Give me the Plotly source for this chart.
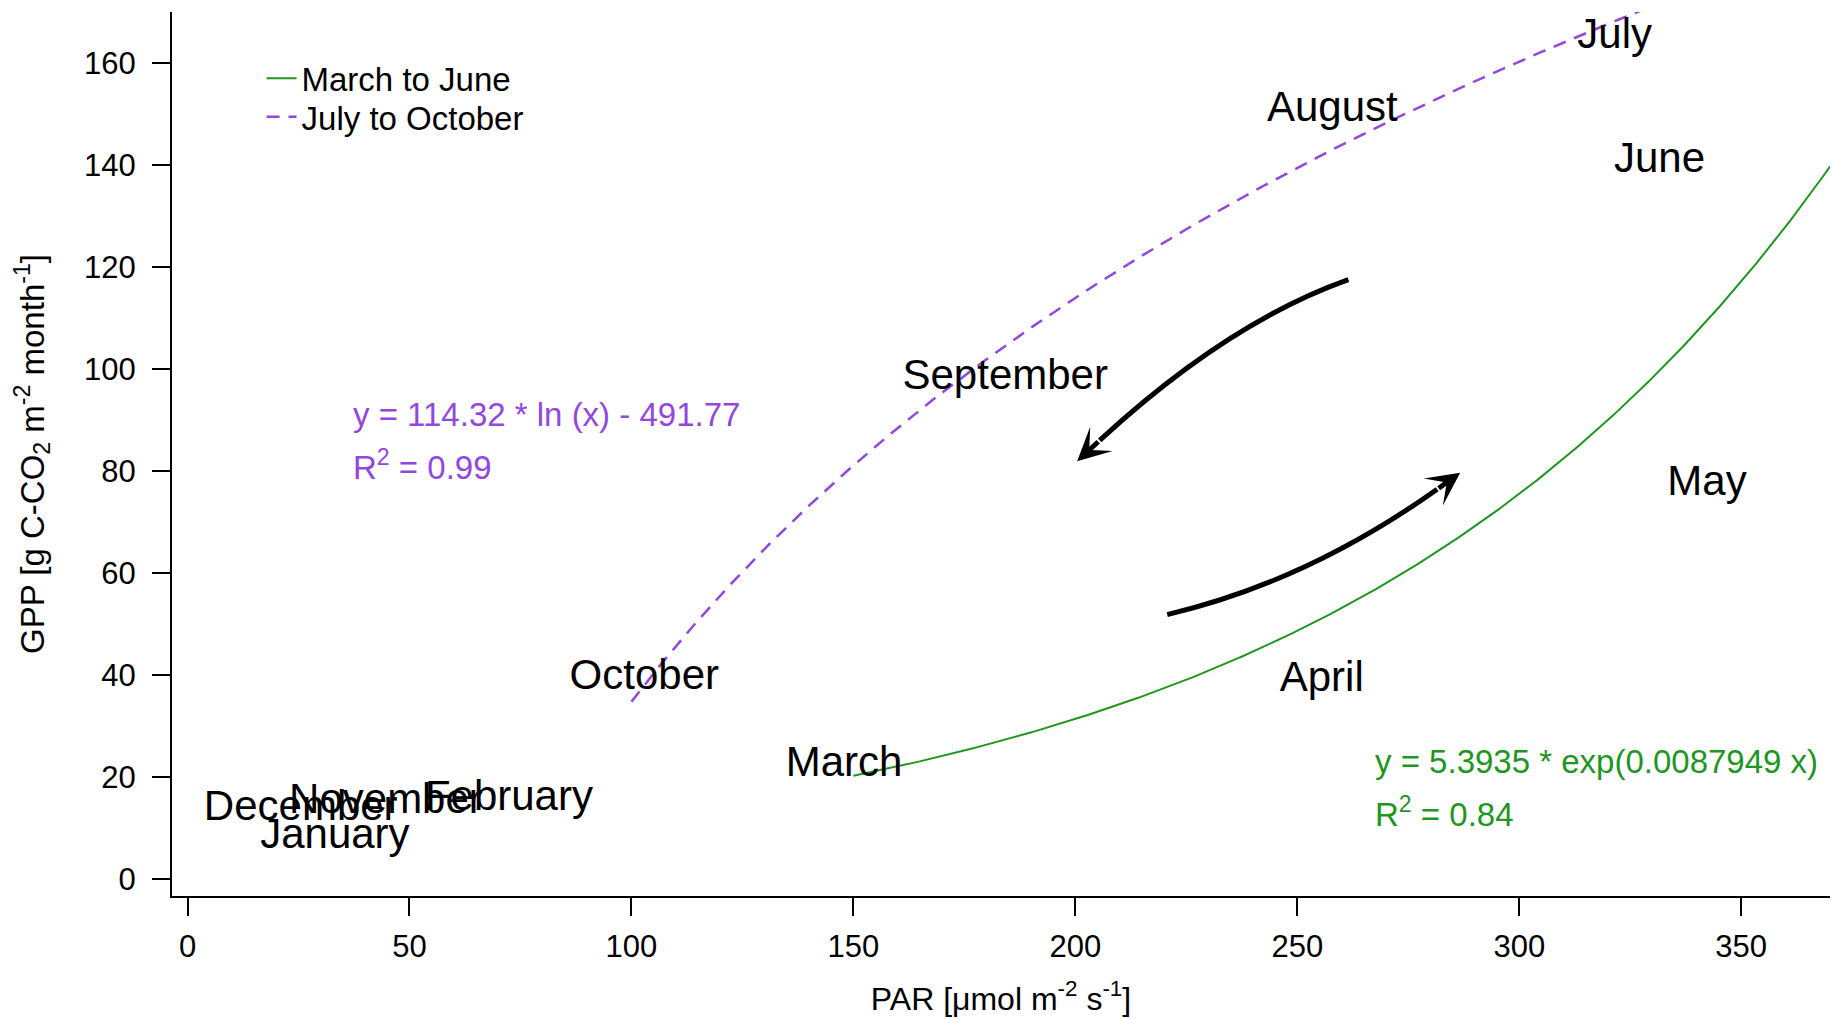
import numpy as np
import plotly.graph_objects as go

# Monthly mean PAR and GPP, labelled by month name
months = ["January", "February", "March", "April", "May", "June",
          "July", "August", "September", "October", "November", "December"]
par = [33.2, 72.4, 147.9, 255.5, 342.3, 331.6, 321.5, 257.9, 184.2, 102.9, 44.7, 25.5]
gpp = [8.0, 15.5, 22.2, 38.9, 77.3, 140.6, 165.0, 150.6, 98.1, 39.3, 14.9, 13.5]

# Fitted curves (coefficients as reported on the chart)
exp_a, exp_b = 5.3935, 0.0087949          # March to June: y = a * exp(b x)
log_a, log_b = 114.32, -491.77            # July to October: y = a * ln(x) + b
spring_x_range = (150, 370)
autumn_x_range = (100, 330)

spring_eq = "y = 5.3935 * exp(0.0087949 x)"
spring_r2 = "R<sup>2</sup> = 0.84"
autumn_eq = "y = 114.32 * ln (x) - 491.77"
autumn_r2 = "R<sup>2</sup> = 0.99"

GREEN = "#1f961f"
PURPLE = "#9247dd"
FONT = "Liberation Sans, Arial, sans-serif"

xs = np.linspace(*spring_x_range, 300)
ys = exp_a * np.exp(exp_b * xs)
xa = np.linspace(*autumn_x_range, 300)
ya = log_a * np.log(xa) + log_b

fig = go.Figure()
fig.add_trace(go.Scatter(x=xs, y=ys, mode="lines", name="March to June",
                         line=dict(color=GREEN, width=2), legend="legend"))
fig.add_trace(go.Scatter(x=xa, y=ya, mode="lines", name="July to October",
                         line=dict(color=PURPLE, width=2.5, dash="13px,9px"),
                         legend="legend2"))
fig.add_trace(go.Scatter(x=par, y=gpp, mode="text", text=months,
                         textposition="middle center", showlegend=False,
                         textfont=dict(size=42, color="black", family=FONT),
                         cliponaxis=False))

# Curved arrows showing the direction of the seasonal cycle
arrows = [
    # start, control, tip (data coordinates)
    ((261.5, 117.5), (234.3, 109.1), (200.4, 81.9)),
    ((220.7, 51.8), (252.1, 58.2), (286.7, 79.6)),
]
shapes = []
annotations = []
for (p0, c, p2) in arrows:
    tail = (p2[0] - 0.15 * (p2[0] - c[0]), p2[1] - 0.15 * (p2[1] - c[1]))
    shapes.append(dict(type="path", xref="x", yref="y",
                       path=f"M {p0[0]},{p0[1]} Q {c[0]},{c[1]} {tail[0]},{tail[1]}",
                       line=dict(color="black", width=5)))
    annotations.append(dict(x=p2[0], y=p2[1], ax=tail[0], ay=tail[1],
                            xref="x", yref="y", axref="x", ayref="y",
                            text="", showarrow=True, arrowhead=3, arrowsize=1.1,
                            arrowwidth=5, arrowcolor="black", standoff=0))

eq_font = 33
annotations += [
    dict(x=36.8, y=91.0, xref="x", yref="y", text=autumn_eq, showarrow=False,
         xanchor="left", yanchor="middle", font=dict(size=eq_font, color=PURPLE, family=FONT)),
    dict(x=36.8, y=81.1, xref="x", yref="y", text=autumn_r2, showarrow=False,
         xanchor="left", yanchor="middle", font=dict(size=eq_font, color=PURPLE, family=FONT)),
    dict(x=267.0, y=22.9, xref="x", yref="y", text=spring_eq, showarrow=False,
         xanchor="left", yanchor="middle", font=dict(size=eq_font, color=GREEN, family=FONT)),
    dict(x=267.0, y=13.0, xref="x", yref="y", text=spring_r2, showarrow=False,
         xanchor="left", yanchor="middle", font=dict(size=eq_font, color=GREEN, family=FONT)),
]

axis_common = dict(showgrid=False, zeroline=False, showline=True, linecolor="black",
                   linewidth=2, ticks="outside", ticklen=18, tickwidth=1.5,
                   tickcolor="black", tickfont=dict(size=31, color="black", family=FONT))

legend_style = dict(xanchor="left", yanchor="top", bgcolor="rgba(0,0,0,0)",
                    font=dict(size=33, family=FONT, color="black"))

fig.update_layout(
    width=1832, height=1019,
    margin=dict(l=172, r=2, t=12, b=123),
    plot_bgcolor="white", paper_bgcolor="white",
    font=dict(family=FONT, color="black"),
    shapes=shapes, annotations=annotations,
    legend=dict(x=0.054, y=0.9568, **legend_style),
    legend2=dict(x=0.054, y=0.9131, **legend_style),
    xaxis=dict(range=[-3.5, 370], tickvals=[0, 50, 100, 150, 200, 250, 300, 350],
               ticklabelstandoff=4,
               title=dict(text="PAR [μmol m<sup>-2</sup> s<sup>-1</sup>]",
                          font=dict(size=32, family=FONT), standoff=24),
               **axis_common),
    yaxis=dict(range=[-3.4, 170], tickvals=[0, 20, 40, 60, 80, 100, 120, 140, 160],
               ticklabelstandoff=10,
               title=dict(text="GPP [g C-CO<sub>2</sub> m<sup>-2</sup> month<sup>-1</sup>]",
                          font=dict(size=33, family=FONT), standoff=30),
               **axis_common),
)

fig.write_html("out.html")
